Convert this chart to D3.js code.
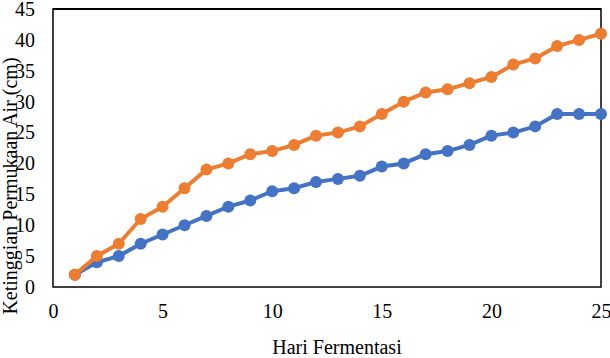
<!DOCTYPE html>
<html><head><meta charset="utf-8">
<script src="https://cdn.jsdelivr.net/npm/d3@7"></script>
<style>html,body{margin:0;padding:0;background:#fff;}svg{display:block;}</style>
</head><body>
<svg id="chart" width="610" height="358"></svg>
<script>
const days = d3.range(1, 26);
const seriesBlue = [2,4,5,7,8.5,10,11.5,13,14,15.5,16,17,17.5,18,19.5,20,21.5,22,23,24.5,25,26,28,28,28];
const seriesOrange = [2,5,7,11,13,16,19,20,21.5,22,23,24.5,25,26,28,30,31.5,32,33,34,36,37,39,40,41];
const xTicks = [0,5,10,15,20,25];
const yTicks = [0,5,10,15,20,25,30,35,40,45];
const xTitle = "Hari Fermentasi";
const yTitle = "Ketinggian Permukaan Air (cm)";

const svg = d3.select("#chart");
const L = 53, R = 601, T = 9, B = 287;
const x = d3.scaleLinear().domain([0,25]).range([L,R]);
const y = d3.scaleLinear().domain([0,45]).range([B,T]);
const font = "'Liberation Serif','Times New Roman',serif";

// frame
svg.append("rect").attr("x",L).attr("y",T).attr("width",R-L).attr("height",B-T)
  .attr("fill","none").attr("stroke","#000").attr("stroke-width",1.5);
svg.append("line").attr("x1",L).attr("x2",R).attr("y1",T).attr("y2",T).attr("stroke","#000").attr("stroke-width",2.2);

// axes
const xAxis = svg.append("g").attr("transform",`translate(0,${B})`)
  .call(d3.axisBottom(x).tickValues(xTicks).tickSize(0).tickPadding(17).tickFormat(d3.format("d")));
xAxis.select(".domain").remove();
xAxis.selectAll("text").attr("font-family",font).attr("font-size",20).attr("fill","#000");

const yAxis = svg.append("g").attr("transform",`translate(${L},0)`)
  .call(d3.axisLeft(y).tickValues(yTicks).tickSize(0).tickPadding(18).tickFormat(d3.format("d")));
yAxis.select(".domain").remove();
yAxis.selectAll("text").attr("font-family",font).attr("font-size",20).attr("fill","#000");

// titles
svg.append("text").attr("x",337).attr("y",354).attr("text-anchor","middle")
  .attr("font-family",font).attr("font-size",20).attr("fill","#000").text(xTitle);
svg.append("text").attr("transform","translate(17,186) rotate(-90)").attr("text-anchor","middle")
  .attr("font-family",font).attr("font-size",20).attr("fill","#000").text(yTitle);

function drawSeries(vals, color){
  const data = days.map((d,i)=>({d, v: vals[i]}));
  svg.append("path").datum(data)
    .attr("fill","none").attr("stroke",color).attr("stroke-width",4).attr("stroke-linejoin","round")
    .attr("d", d3.line().x(p=>x(p.d)).y(p=>y(p.v)));
  svg.append("g").selectAll("circle").data(data).join("circle")
    .attr("cx",p=>x(p.d)).attr("cy",p=>y(p.v)).attr("r",6).attr("fill",color);
}
drawSeries(seriesBlue, "#4472C4");
drawSeries(seriesOrange, "#ED7D31");
</script>
</body></html>
